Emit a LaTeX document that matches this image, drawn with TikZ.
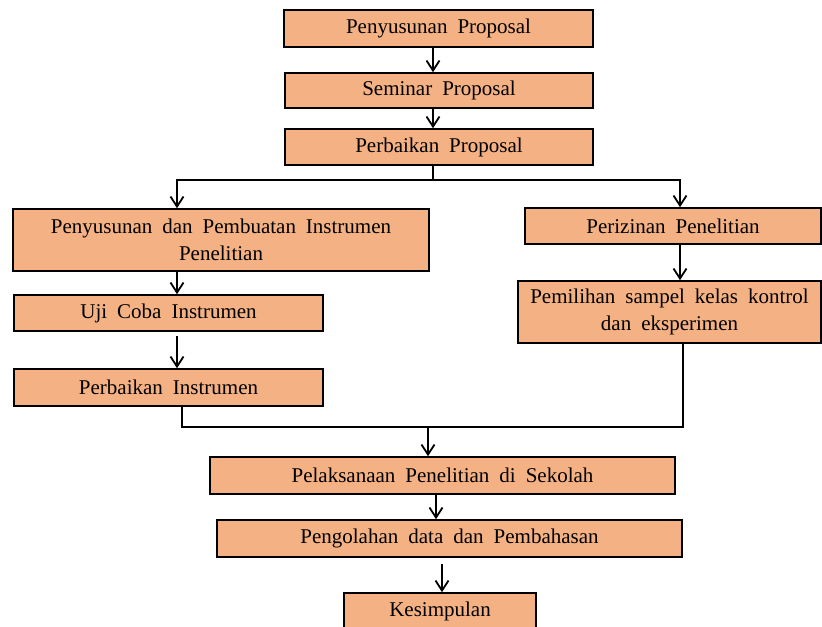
\documentclass[tikz,border=0pt]{standalone}
\usepackage{fontspec}
\setmainfont{Liberation Serif}
\usetikzlibrary{arrows.meta}
\definecolor{boxfill}{HTML}{F4B183}
\newcommand\boxfont{\fontsize{10.5}{13.5}\selectfont\spaceskip=5pt plus 1pt\relax}

\begin{document}
\begin{tikzpicture}[x=0.5pt,y=-0.5pt,
  box/.style={draw,fill=boxfill,line width=0.8pt,inner sep=0pt,align=center,
    font=\boxfont},
  arr/.style={line width=0.9pt,-{Straight Barb[length=5pt,width=6.5pt]}},
  line/.style={line width=0.9pt}]
\useasboundingbox (0,0) rectangle (822,626);

% proposal stage
\node[box,minimum width=154.5pt,minimum height=18.5pt] (p1) at (438.5,28.5) {Penyusunan Proposal};
\node[box,minimum width=154pt,minimum height=17.5pt] (p2) at (439,90.5) {Seminar Proposal};
\node[box,minimum width=154pt,minimum height=18pt] (p3) at (439,147) {Perbaikan Proposal};

% left branch
\node[box,minimum width=208pt,minimum height=31pt] (p4) at (221,240) {Penyusunan dan Pembuatan Instrumen\\Penelitian};
\node[box,minimum width=154.5pt,minimum height=18pt] (p5) at (168.5,313) {Uji Coba Instrumen};
\node[box,minimum width=154.5pt,minimum height=18.5pt] (p6) at (168.5,387.5) {Perbaikan Instrumen};

% right branch
\node[box,minimum width=148pt,minimum height=18pt] (p7) at (673,226) {Perizinan Penelitian};
\node[box,minimum width=151.5pt,minimum height=31pt] (p8) at (669.5,312) {Pemilihan sampel kelas kontrol\\dan eksperimen};

% final stage
\node[box,minimum width=232.5pt,minimum height=18.5pt] (p9) at (442.5,475.5) {Pelaksanaan Penelitian di Sekolah};
\node[box,minimum width=232.5pt,minimum height=18.5pt] (p10) at (449.5,538.5) {Pengolahan data dan Pembahasan};
\node[box,minimum width=96pt,minimum height=18.5pt] (p11) at (440,611.5) {Kesimpulan};

\coordinate (mcol) at (433,0);
\coordinate (lcol) at (177,0);
\coordinate (rcol) at (680,0);
\coordinate (split) at (433,180);
\coordinate (join) at (428,427);

\draw[arr] (p1.south -| mcol) -- (p2.north -| mcol);
\draw[arr] (p2.south -| mcol) -- (p3.north -| mcol);

\draw[line] (p3.south -| mcol) -- (split);
\draw[arr] (split) -| (p4.north -| lcol);
\draw[arr] (split) -| (p7.north -| rcol);

\draw[arr] (p4.south -| lcol) -- (p5.north -| lcol);
\draw[arr] ([yshift=-2pt]p5.south -| lcol) -- (p6.north -| lcol);
\draw[arr] (p7.south -| rcol) -- (p8.north -| rcol);

\draw[line] ([xshift=6.75pt]p6.south) |- (join) -| ([xshift=6.75pt]p8.south);
\draw[arr] (join) -- (p9.north -| join);

\draw[arr] ([xshift=-3.25pt]p9.south) -- ([xshift=-3.25pt]p9.south |- p10.north);
\draw[arr] ([xshift=-3.75pt,yshift=-3pt]p10.south) -- ([xshift=-3.75pt]p10.south |- p11.north);
\end{tikzpicture}
\end{document}
